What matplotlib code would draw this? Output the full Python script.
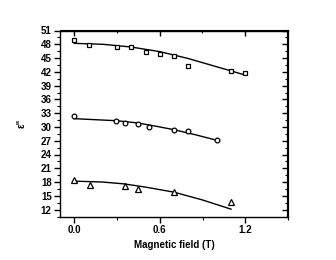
import matplotlib
matplotlib.use("Agg")
import matplotlib.pyplot as plt
from matplotlib.ticker import MultipleLocator

plt.rcParams['font.family'] = ['Liberation Sans', 'DejaVu Sans']
plt.rcParams['font.weight'] = 'bold'

# Measured data
sq_x = [0.0, 0.105, 0.3, 0.4, 0.5, 0.6, 0.7, 0.8, 1.1, 1.2]
sq_y = [49.0, 47.9, 47.4, 47.45, 46.4, 45.9, 45.5, 43.3, 42.2, 41.65]
ci_x = [0.0, 0.295, 0.354, 0.445, 0.524, 0.699, 0.80, 1.0]
ci_y = [32.3, 31.3, 30.9, 30.7, 30.0, 29.3, 29.05, 27.2]
tr_x = [0.0, 0.11, 0.354, 0.448, 0.697, 1.1]
tr_y = [18.4, 17.4, 17.1, 16.4, 15.8, 13.7]

# Fit curves
sq_fit_x = [0.0, 0.2, 0.4, 0.6, 0.8, 1.0, 1.2]
sq_fit_y = [48.2, 48.0, 47.4, 46.4, 44.9, 43.1, 41.3]
ci_fit_x = [0.0, 0.3, 0.45, 0.6, 0.7, 0.85, 1.0]
ci_fit_y = [31.8, 31.35, 30.85, 30.0, 29.4, 28.3, 27.1]
tr_fit_x = [0.0, 0.2, 0.35, 0.5, 0.7, 0.9, 1.1]
tr_fit_y = [18.2, 18.0, 17.6, 16.9, 15.8, 14.1, 12.1]

y_ticks = [12, 15, 18, 21, 24, 27, 30, 33, 36, 39, 42, 45, 48, 51]
x_ticks = [0.0, 0.6, 1.2]

fig = plt.figure(figsize=(3.36, 2.60), dpi=100)
ax = fig.add_axes([60/336, 1-216.5/260, (288-60)/336, (216.5-30.5)/260])

mk = dict(color='black', linestyle='none', markerfacecolor='white',
          markeredgecolor='black', markersize=3.4, markeredgewidth=0.9)
ax.plot(sq_fit_x, sq_fit_y, color='black', lw=1.0, zorder=2)
ax.plot(ci_fit_x, ci_fit_y, color='black', lw=1.0, zorder=2)
ax.plot(tr_fit_x, tr_fit_y, color='black', lw=1.0, zorder=2)
ax.plot(sq_x, sq_y, marker='s', **mk, zorder=3)
ax.plot(ci_x, ci_y, marker='o', **mk, zorder=3)
ax.plot(tr_x, tr_y, marker='^', **{**mk, 'markersize': 3.8}, zorder=3)

ax.set_xlim(-0.1, 1.5)
ax.set_ylim(10.5, 51)
ax.set_xticks(x_ticks)
ax.set_xticklabels(['%.1f' % v for v in x_ticks])
ax.set_yticks(y_ticks)
ax.set_yticklabels([str(v) for v in y_ticks])
ax.xaxis.set_minor_locator(MultipleLocator(0.3))
ax.yaxis.set_minor_locator(MultipleLocator(1.5))

ax.tick_params(axis='both', which='major', labelsize=7, width=1, length=4,
               direction='out', top=False, right=False, pad=2)
ax.tick_params(axis='both', which='minor', width=0.8, length=2.5,
               direction='out', top=False, right=False)
for lab in ax.get_xticklabels() + ax.get_yticklabels():
    lab.set_fontweight('bold')

# inward ticks on top and right via secondary axes
axt = ax.secondary_xaxis('top')
axt.set_xticks(x_ticks)
axt.xaxis.set_minor_locator(MultipleLocator(0.3))
axt.tick_params(which='major', direction='in', length=4, width=1, labeltop=False)
axt.tick_params(which='minor', direction='in', length=2.5, width=0.8)
axt.set_xticklabels([])
axr = ax.secondary_yaxis('right')
axr.set_yticks(y_ticks)
axr.yaxis.set_minor_locator(MultipleLocator(1.5))
axr.tick_params(which='major', direction='in', length=4, width=1)
axr.tick_params(which='minor', direction='in', length=2.5, width=0.8)
axr.set_yticklabels([])
axr.spines['right'].set_linewidth(1.5)

for s in ax.spines.values():
    s.set_linewidth(1.0)
ax.spines['right'].set_linewidth(1.5)

ax.set_xlabel('Magnetic field (T)', fontsize=7, fontweight='bold', labelpad=4)
ax.set_ylabel('ε"', fontsize=7, fontweight='bold', labelpad=10)

fig.savefig('out.png', dpi=100, facecolor='white')
